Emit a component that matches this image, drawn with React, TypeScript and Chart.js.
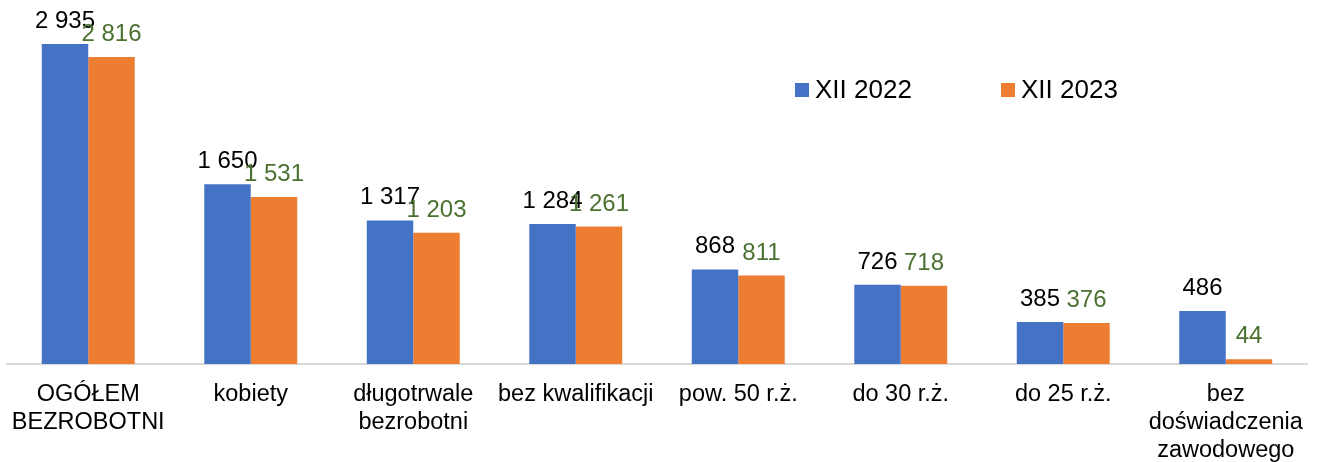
import React, { useEffect, useRef } from "react";
import { Chart, registerables } from "chart.js";

Chart.register(...registerables);

const categories: (string | string[])[] = [
  ["OGÓŁEM", "BEZROBOTNI"],
  "kobiety",
  ["długotrwale", "bezrobotni"],
  "bez kwalifikacji",
  "pow. 50 r.ż.",
  "do 30 r.ż.",
  "do 25 r.ż.",
  ["bez", "doświadczenia", "zawodowego"],
];
const series2022 = [2935, 1650, 1317, 1284, 868, 726, 385, 486];
const series2023 = [2816, 1531, 1203, 1261, 811, 718, 376, 44];
const seriesLabels = ["XII 2022", "XII 2023"];
const seriesColors = ["#4472C4", "#ED7D31"];
const labelColors = ["#000000", "#4B7131"];

const FONT = "'Liberation Sans', Arial, sans-serif";

const fmt = (v: number) => {
  const s = String(v);
  return s.replace(/\B(?=(\d{3})+(?!\d))/g, " ");
};

const labelsPlugin = {
  id: "valueLabels",
  afterDatasetsDraw(chart: any) {
    const ctx = chart.ctx;
    ctx.save();
    ctx.font = `24px ${FONT}`;
    ctx.textAlign = "center";
    ctx.textBaseline = "alphabetic";
    chart.data.datasets.forEach((ds: any, i: number) => {
      const meta = chart.getDatasetMeta(i);
      ctx.fillStyle = labelColors[i];
      meta.data.forEach((el: any, j: number) => {
        ctx.fillText(fmt(ds.data[j]), el.x, el.y - 16);
      });
    });
    ctx.restore();
  },
};

const legendPlugin = {
  id: "insideLegend",
  afterDraw(chart: any) {
    const ctx = chart.ctx;
    const area = chart.chartArea;
    ctx.save();
    ctx.font = `26px ${FONT}`;
    ctx.textBaseline = "middle";
    ctx.textAlign = "left";
    const starts = [area.left + 788, area.left + 994];
    const cy = 90;
    chart.data.datasets.forEach((ds: any, i: number) => {
      const x = starts[i];
      ctx.fillStyle = ds.backgroundColor;
      ctx.fillRect(x, cy - 7, 14, 14);
      ctx.fillStyle = "#000";
      ctx.fillText(ds.label, x + 20, cy + 1);
    });
    ctx.restore();
  },
};

export default function App() {
  const ref = useRef<HTMLCanvasElement>(null);
  useEffect(() => {
    document.body.style.margin = "0";
    const chart = new Chart(ref.current!, {
      type: "bar",
      data: {
        labels: categories,
        datasets: [
          { label: seriesLabels[0], data: series2022, backgroundColor: seriesColors[0] },
          { label: seriesLabels[1], data: series2023, backgroundColor: seriesColors[1] },
        ],
      },
      options: {
        animation: false,
        responsive: false,
        maintainAspectRatio: false,
        layout: { padding: { left: 7, right: 10, top: 37, bottom: 0 } },
        datasets: { bar: { categoryPercentage: 0.572, barPercentage: 1 } },
        plugins: { legend: { display: false }, tooltip: { enabled: false } },
        scales: {
          x: {
            grid: { display: false, drawTicks: false },
            border: { display: true, color: "#D9D9D9", width: 2 },
            ticks: {
              color: "#000",
              font: { family: FONT, size: 23.5, lineHeight: 1.2 },
              padding: 16,
              maxRotation: 0,
              autoSkip: false,
            },
            afterFit: (scale: any) => {
              scale.height = 98;
              scale.paddingLeft = 0;
              scale.paddingRight = 0;
            },
          },
          y: { display: false, min: 0, max: 3000 },
        },
      },
      plugins: [labelsPlugin, legendPlugin],
    });
    return () => chart.destroy();
  }, []);
  return <canvas ref={ref} width={1317} height={462} style={{ display: "block" }} />;
}
